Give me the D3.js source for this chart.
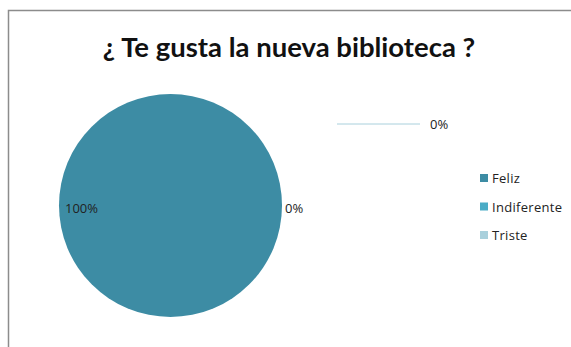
<!DOCTYPE html>
<html>
<head>
<meta charset="utf-8">
<script src="https://cdn.jsdelivr.net/npm/d3@7"></script>
<style>
  body { margin: 0; background: #fff; }
  svg { display: block; }
</style>
</head>
<body>
<div id="chart"></div>
<script>
  const categories = ["Feliz", "Indiferente", "Triste"];
  const values = [100, 0, 0];
  const colors = ["#3d8ca4", "#4bacc6", "#a9d0dc"];
  const title = "¿ Te gusta la nueva biblioteca ?";

  const width = 571;
  const height = 347;

  const svg = d3.select("#chart")
    .append("svg")
    .attr("width", width)
    .attr("height", height);

  // frame (only top and left edges show in the crop)
  svg.append("path")
    .attr("d", `M8.5,${height} V10.5 H${width}`)
    .attr("fill", "none")
    .attr("stroke", "#8c8c8c")
    .attr("stroke-width", 1.5);

  svg.append("text")
    .attr("x", 289)
    .attr("y", 57)
    .attr("text-anchor", "middle")
    .style("font-family", "Lato, 'Open Sans', sans-serif")
    .style("font-weight", "bold")
    .style("font-size", "27.5px")
    .attr("fill", "#111")
    .text(title);

  const cx = 170.5, cy = 205.5, r = 111.5;
  const total = d3.sum(values);
  const pct = d3.format(".0%");

  const pie = d3.pie().sort(null)(values);
  const arc = d3.arc().innerRadius(0).outerRadius(r);

  const g = svg.append("g").attr("transform", `translate(${cx},${cy})`);

  g.selectAll("path.slice")
    .data(pie)
    .enter()
    .append("path")
    .attr("class", "slice")
    .attr("d", arc)
    .attr("fill", (d, i) => colors[i]);

  const labelStyle = sel => sel
    .style("font-family", "'Open Sans', sans-serif")
    .style("font-size", "13px")
    .attr("fill", "#222");

  // Feliz label inside on the left edge
  g.append("text")
    .attr("x", -r + 6)
    .attr("y", 7)
    .call(labelStyle)
    .text(pct(values[0] / total));

  // Indiferente label just outside the right edge
  g.append("text")
    .attr("x", r + 3)
    .attr("y", 7)
    .call(labelStyle)
    .text(pct(values[1] / total));

  // Triste label with a leader line, upper right
  const lead = { x1: r + 55, y: -81.5, x2: r + 138 };
  g.append("line")
    .attr("x1", lead.x1)
    .attr("x2", lead.x2)
    .attr("y1", lead.y)
    .attr("y2", lead.y)
    .attr("stroke", "#a9d0dc")
    .attr("stroke-width", 1);
  g.append("text")
    .attr("x", lead.x2 + 10)
    .attr("y", lead.y + 5)
    .call(labelStyle)
    .text(pct(values[2] / total));

  // legend
  const legend = svg.append("g").attr("transform", "translate(480,178)");
  const item = legend.selectAll("g")
    .data(categories)
    .enter()
    .append("g")
    .attr("transform", (d, i) => `translate(0,${i * 28.5})`);

  item.append("rect")
    .attr("x", 0)
    .attr("y", -4)
    .attr("width", 8)
    .attr("height", 8)
    .attr("fill", (d, i) => colors[i]);

  item.append("text")
    .attr("x", 12)
    .attr("y", 5)
    .style("font-family", "'Open Sans', sans-serif")
    .style("font-size", "13px")
    .style("letter-spacing", "0.3px")
    .attr("fill", "#222")
    .text(d => d);
</script>
</body>
</html>
